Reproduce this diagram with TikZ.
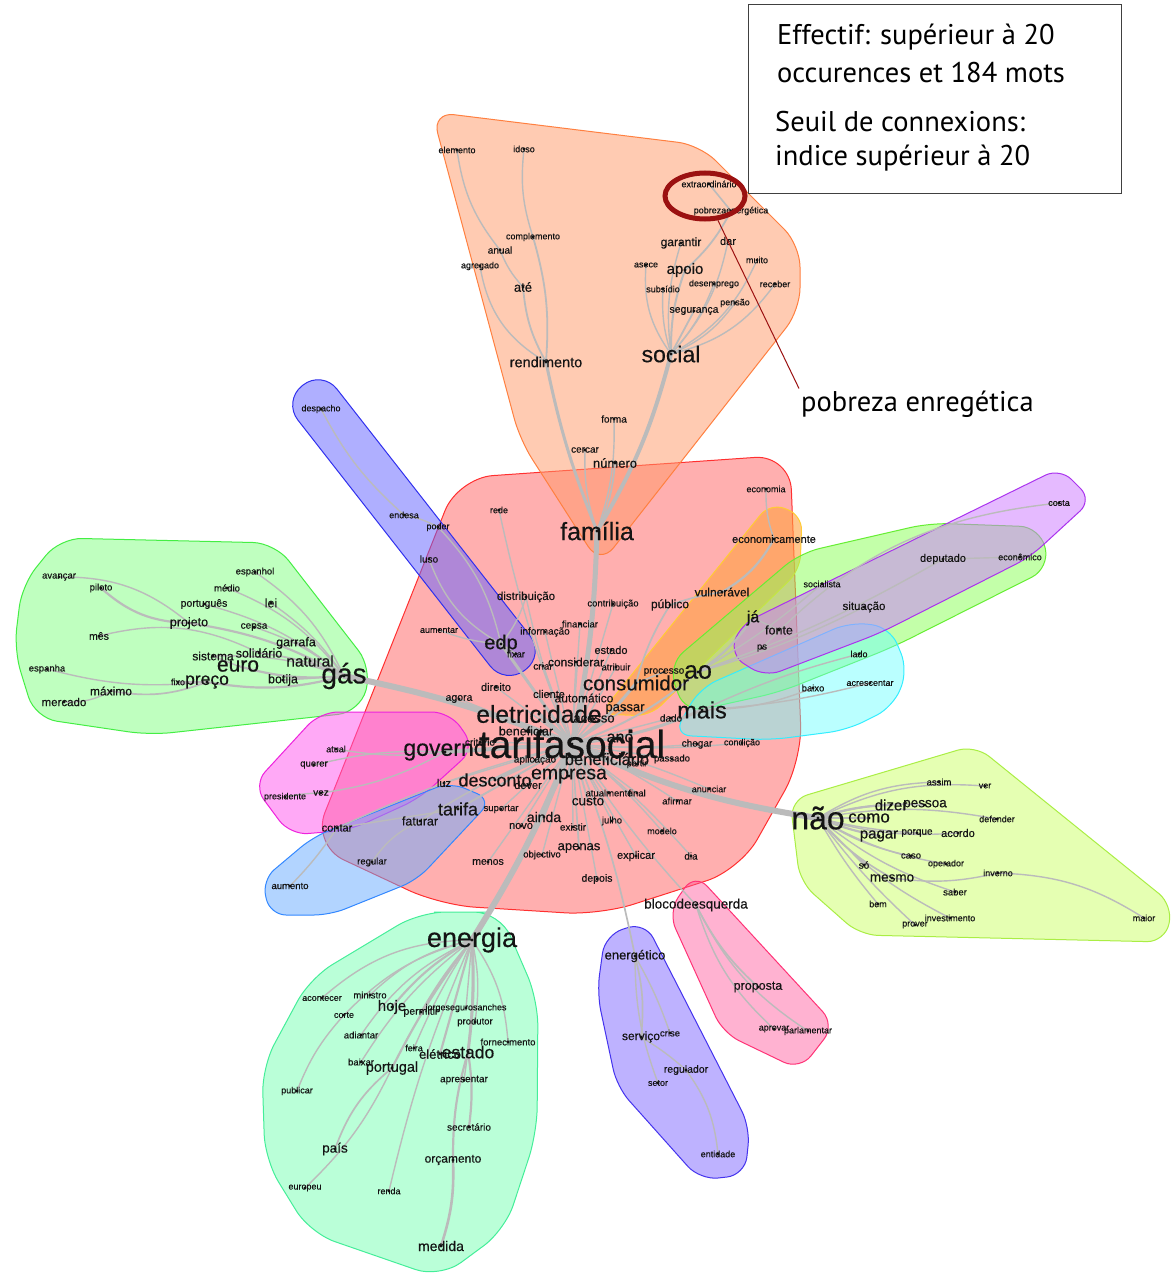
\documentclass[tikz,border=0pt]{standalone}
\usepackage{fontspec}
\setmainfont{Liberation Sans}
\newfontfamily\wfont[FakeBold=0.35]{Liberation Sans}
\newfontfamily\boxfont{PT Sans}
\usetikzlibrary{shapes.geometric,calc}
\pgfdeclarelayer{hulls}
\pgfdeclarelayer{edges}
\pgfsetlayers{hulls,edges,main}
\definecolor{wtext}{HTML}{141414}
\definecolor{edgec}{HTML}{BBBBBB}
\definecolor{cRedF}{HTML}{FF6666}\definecolor{cRedD}{HTML}{FF3030}
\definecolor{cOrF}{HTML}{FF9966}\definecolor{cOrD}{HTML}{FF8040}
\definecolor{cYoF}{HTML}{FFA040}\definecolor{cYoD}{HTML}{FFCC33}
\definecolor{cBlF}{HTML}{6060FF}\definecolor{cBlD}{HTML}{3030EE}
\definecolor{cLgF}{HTML}{80FF80}\definecolor{cLgD}{HTML}{44EE44}
\definecolor{cMaF}{HTML}{FF55EE}\definecolor{cMaD}{HTML}{EE22DD}
\definecolor{cLbF}{HTML}{66AAFF}\definecolor{cLbD}{HTML}{3388FF}
\definecolor{cCyF}{HTML}{66FFFF}\definecolor{cCyD}{HTML}{33EEFF}
\definecolor{cGrF}{HTML}{88FF55}\definecolor{cGrD}{HTML}{66EE33}
\definecolor{cPuF}{HTML}{CC77FF}\definecolor{cPuD}{HTML}{AA33EE}
\definecolor{cLiF}{HTML}{CCFF66}\definecolor{cLiD}{HTML}{AAEE44}
\definecolor{cBgF}{HTML}{66FFAA}\definecolor{cBgD}{HTML}{44EE99}
\definecolor{cBpF}{HTML}{7F66FF}\definecolor{cBpD}{HTML}{4433EE}
\definecolor{cPkF}{HTML}{FF5599}\definecolor{cPkD}{HTML}{FF3377}
\definecolor{markred}{HTML}{9B1111}
\tikzset{
  wd/.style={inner sep=0pt, text=wtext},
  edge/.style={draw=edgec, line width=1.4pt, line cap=round},
  hull/.style={line width=1pt, fill opacity=0.5, rounded corners=20pt},
  boxtxt/.style={anchor=west, inner sep=0pt, font=\boxfont\fontsize{28.5}{28.5}\selectfont, text=black},
}
\newcommand\Wd[5]{\node[wd,font=\wfont\fontsize{#4}{#4}\selectfont] (#1) at (#2,#3) {#5};\fill[wtext] (#1.center) circle (1.7pt);}
\newcommand\Ed[3][]{\draw[edge,#1] (#2.center) to (#3.center);}
\begin{document}
\begin{tikzpicture}[x=1pt,y=-1pt]
\useasboundingbox (0,0) rectangle (1175,1279);
\begin{pgfonlayer}{hulls}
\fill[white] (0,0) rectangle (1175,1279);
% red
\path[hull,fill=cRedF,draw=cRedD,rounded corners=35pt,fill opacity=0.52] ($(458,478)!0.5!(790,455)$) -- (790,455) -- (802,760) -- (740,870) -- (600,915) -- (440,905) -- (312,845) -- (458,478) -- cycle;
% orange
\path[hull,fill=cOrF,draw=cOrD,rounded corners=22pt] ($(432,112)!0.5!(700,145)$) -- (700,145) -- (800,245) -- (800,310) -- (600,565) -- (520,440) -- (432,112) -- cycle;
% yellow orange
\path[hull,fill=cYoF,draw=cYoD,fill opacity=0.6,rounded corners=15pt] ($(600,714)!0.5!(770,503)$) -- (770,503) -- (802,515) -- (800,570) -- (650,716) -- (600,714) -- cycle;
% blue top
\path[hull,fill=cBlF,draw=cBlD,rounded corners=24pt] ($(322,370)!0.5!(545,655)$) -- (545,655) -- (505,685) -- (283,401) -- (322,370) -- cycle;
% left green
\path[hull,fill=cLgF,draw=cLgD,rounded corners=22pt] ($(60,538)!0.5!(275,543)$) -- (275,543) -- (372,668) -- (360,712) -- (150,735) -- (35,718) -- (14,650) -- (22,585) -- (60,538) -- cycle;
% magenta
\path[hull,fill=cMaF,draw=cMaD,rounded corners=18pt] ($(320,712)!0.5!(450,712)$) -- (450,712) -- (475,748) -- (420,798) -- (350,830) -- (290,835) -- (253,785) -- (320,712) -- cycle;
% light blue
\path[hull,fill=cLbF,draw=cLbD,rounded corners=16pt] ($(313,837)!0.5!(450,782)$) -- (450,782) -- (492,800) -- (417,880) -- (330,915) -- (270,915) -- (262,880) -- (313,837) -- cycle;
% green elongated
\path[hull,fill=cGrF,draw=cGrD,rounded corners=20pt] ($(800,553)!0.5!(930,523)$) -- (930,523) -- (1040,527) -- (1050,568) -- (893,647) -- (780,692) -- (685,713) -- (668,665) -- (800,553) -- cycle;
% cyan
\path[hull,fill=cCyF,draw=cCyD,fill opacity=0.45,rounded corners=18pt] ($(700,688)!0.5!(850,622)$) -- (850,622) -- (890,627) -- (908,670) -- (893,707) -- (847,730) -- (770,740) -- (673,735) -- (700,688) -- cycle;
% purple
\path[hull,fill=cPuF,draw=cPuD,rounded corners=16pt] ($(740,625)!0.5!(1060,468)$) -- (1060,468) -- (1092,500) -- (1030,557) -- (880,633) -- (765,677) -- (730,655) -- (740,625) -- cycle;
% lime
\path[hull,fill=cLiF,draw=cLiD,rounded corners=18pt] ($(790,800)!0.5!(975,745)$) -- (975,745) -- (1173,905) -- (1165,942) -- (860,935) -- (800,882) -- (790,800) -- cycle;
% bottom green
\path[hull,fill=cBgF,draw=cBgD,fill opacity=0.45,rounded corners=26pt] ($(420,912)!0.5!(500,912)$) -- (500,912) -- (538,1000) -- (537,1133) -- (505,1230) -- (440,1278) -- (310,1233) -- (265,1160) -- (262,1067) -- (310,978) -- (420,912) -- cycle;
% bottom purple
\path[hull,fill=cBpF,draw=cBpD,rounded corners=18pt] ($(645,922)!0.5!(750,1127)$) -- (750,1127) -- (745,1175) -- (700,1180) -- (617,1087) -- (597,993) -- (605,935) -- (645,922) -- cycle;
% pink
\path[hull,fill=cPkF,draw=cPkD,fill opacity=0.45,rounded corners=18pt] ($(695,873)!0.5!(835,1025)$) -- (835,1025) -- (800,1070) -- (723,1033) -- (668,912) -- (695,873) -- cycle;
\end{pgfonlayer}

% ---------- words: orange
\Wd{elem}{457}{150}{9}{elemento}
\Wd{idoso}{524}{149}{9}{idoso}
\Wd{extra}{709}{184}{9}{extraordinário}
\Wd{pobre}{731}{211}{9}{pobrezaenergética}
\Wd{compl}{533}{237}{9}{complemento}
\Wd{anual}{500}{250}{10}{anual}
\Wd{agreg}{480}{266}{9}{agregado}
\Wd{ate}{523}{287}{13}{até}
\Wd{garan}{681}{243}{12}{garantir}
\Wd{dar}{728}{241}{11}{dar}
\Wd{asece}{646}{265}{9}{asece}
\Wd{apoio}{685}{270}{15}{apoio}
\Wd{muito}{757}{260}{9}{muito}
\Wd{subs}{663}{289}{9}{subsídio}
\Wd{desem}{714}{284}{9}{desemprego}
\Wd{receb}{775}{284}{9}{receber}
\Wd{pensao}{735}{303}{9}{pensão}
\Wd{segur}{694}{311}{10.5}{segurança}
\Wd{rendim}{546}{362}{14.5}{rendimento}
\Wd{social}{671}{354}{23}{social}
\Wd{forma}{614}{419}{10}{forma}
\Wd{cercar}{585}{450}{10}{cercar}
\Wd{numero}{615}{463}{13}{número}
\Wd{familia}{597}{531}{25}{família}
% blue top
\Wd{despacho}{321}{409}{9}{despacho}
\Wd{endesa}{404}{515}{9}{endesa}
\Wd{poder}{438}{527}{9}{poder}
\Wd{luso}{429}{559}{10}{luso}
\Wd{aumentar}{439}{630}{9}{aumentar}
\Wd{edp}{501}{644}{20}{edp}
\Wd{fixar}{516}{654}{9.5}{fixar}
% red center
\Wd{rede}{499}{510}{9}{rede}
\Wd{economia}{766}{489}{9}{economia}
\Wd{economic}{774}{539}{11}{economicamente}
\Wd{distrib}{526}{597}{11.5}{distribuição}
\Wd{contrib}{613}{604}{9.5}{contribuição}
\Wd{publico}{670}{605}{12}{público}
\Wd{vulner}{722}{592}{12}{vulnerável}
\Wd{informa}{545}{632}{10}{informação}
\Wd{financ}{580}{624}{9.5}{financiar}
\Wd{estadoc}{611}{650}{11}{estado}
\Wd{consid}{576}{662}{12}{considerar}
\Wd{criar}{543}{666}{10}{criar}
\Wd{atrib}{616}{667}{9.5}{atribuir}
\Wd{processo}{664}{672}{10}{processo}
\Wd{ao}{698}{672}{25}{ao}
\Wd{consum}{636}{683}{20.5}{consumidor}
\Wd{direito}{496}{687}{11}{direito}
\Wd{agora}{459}{699}{10.5}{agora}
\Wd{cliente}{549}{694}{11}{cliente}
\Wd{autom}{584}{698}{12}{automático}
\Wd{eletric}{539}{714}{24.5}{eletricidade}
\Wd{passar}{625}{709}{13}{passar}
\Wd{acesso}{594}{719}{13}{acesso}
\Wd{dado}{671}{718}{10}{dado}
\Wd{mais}{702}{710}{23.5}{mais}
\Wd{benefr}{526}{731}{12.5}{beneficiar}
\Wd{criterio}{480}{742}{10}{critério}
\Wd{ano}{620}{738}{16}{ano}
\Wd{tarifas}{572}{744}{39}{tarifasocial}
\Wd{governo}{445}{752}{23}{governo}
\Wd{chegar}{697}{744}{10}{chegar}
\Wd{condicao}{742}{743}{9}{condição}
\Wd{aplic}{535}{760}{10}{aplicação}
\Wd{benefc}{607}{759}{16.5}{beneficiário}
\Wd{partir}{637}{764}{9}{partir}
\Wd{passado}{672}{759}{9.5}{passado}
\Wd{luz}{444}{783}{11}{luz}
\Wd{desconto}{495}{780}{18}{desconto}
\Wd{dever}{528}{785}{11}{dever}
\Wd{empresa}{569}{776}{19.5}{empresa}
\Wd{atualm}{609}{793}{9.5}{atualmente}
\Wd{final}{637}{793}{9.5}{final}
\Wd{afirmar}{677}{801}{9.5}{afirmar}
\Wd{anunciar}{709}{789}{9}{anunciar}
\Wd{custo}{588}{801}{13.5}{custo}
\Wd{tarifa}{458}{809}{18}{tarifa}
\Wd{suportar}{501}{809}{9.5}{suportar}
\Wd{ainda}{544}{817}{14}{ainda}
\Wd{novo}{521}{826}{11}{novo}
\Wd{existir}{573}{827}{10}{existir}
\Wd{julho}{612}{821}{9.5}{julho}
\Wd{modelo}{662}{831}{9}{modelo}
\Wd{faturar}{420}{821}{12.5}{faturar}
\Wd{contar}{337}{828}{11}{contar}
\Wd{apenas}{579}{848}{13}{apenas}
\Wd{objectivo}{542}{855}{9.5}{objectivo}
\Wd{menos}{488}{862}{10.5}{menos}
\Wd{explicar}{636}{856}{11}{explicar}
\Wd{dia}{691}{856}{10}{dia}
\Wd{depois}{597}{879}{10.5}{depois}
\Wd{bloco}{696}{905}{13.5}{blocodeesquerda}
% magenta / light blue
\Wd{atual}{336}{749}{9}{atual}
\Wd{querer}{314}{765}{9.5}{querer}
\Wd{presid}{285}{797}{9}{presidente}
\Wd{vez}{321}{793}{10}{vez}
\Wd{regular}{372}{862}{9.5}{regular}
\Wd{aumento}{290}{886}{9.5}{aumento}
% left green
\Wd{avancar}{59}{577}{9.5}{avançar}
\Wd{piloto}{101}{588}{9.5}{piloto}
\Wd{espanhol}{255}{572}{9.5}{espanhol}
\Wd{medio}{227}{588}{9.5}{médio}
\Wd{portug}{204}{604}{10.5}{português}
\Wd{lei}{271}{603}{12.5}{lei}
\Wd{projeto}{189}{623}{12.5}{projeto}
\Wd{cepsa}{254}{627}{10}{cepsa}
\Wd{mes}{99}{636}{10.5}{mês}
\Wd{garrafa}{296}{643}{12.5}{garrafa}
\Wd{sistema}{213}{656}{12}{sistema}
\Wd{solid}{259}{653}{12.5}{solidário}
\Wd{natural}{310}{661}{15.5}{natural}
\Wd{euro}{238}{666}{21}{euro}
\Wd{espanha}{47}{669}{9.5}{espanha}
\Wd{fixo}{178}{682}{9}{fixo}
\Wd{preco}{207}{682}{17.5}{preço}
\Wd{botija}{283}{680}{12.5}{botija}
\Wd{gas}{344}{676}{28}{gás}
\Wd{maximo}{111}{691}{12}{máximo}
\Wd{mercado}{64}{702}{11.5}{mercado}
% right green / purple / cyan
\Wd{ja}{753}{618}{16}{já}
\Wd{fonte}{779}{630}{12.5}{fonte}
\Wd{ps}{762}{648}{9.5}{ps}
\Wd{socialista}{822}{584}{9}{socialista}
\Wd{situacao}{864}{607}{11.5}{situação}
\Wd{deputado}{943}{559}{11}{deputado}
\Wd{economico}{1020}{557}{9}{econômico}
\Wd{costa}{1059}{503}{9}{costa}
\Wd{lado}{859}{654}{9}{lado}
\Wd{baixo}{813}{688}{9.5}{baixo}
\Wd{acresc}{870}{683}{9}{acrescentar}
% lime
\Wd{nao}{818}{818}{32}{não}
\Wd{assim}{939}{782}{9.5}{assim}
\Wd{ver}{985}{786}{9}{ver}
\Wd{dizer}{891}{805}{15}{dizer}
\Wd{pessoa}{925}{805}{13.5}{pessoa}
\Wd{defender}{997}{819}{9}{defender}
\Wd{como}{869}{818}{17}{como}
\Wd{pagar}{879}{836}{15}{pagar}
\Wd{porque}{917}{833}{10}{porque}
\Wd{acordo}{958}{833}{11}{acordo}
\Wd{caso}{911}{856}{9.5}{caso}
\Wd{operador}{946}{864}{9}{operador}
\Wd{so}{864}{865}{10}{só}
\Wd{inverno}{998}{873}{9}{inverno}
\Wd{mesmo}{892}{878}{13.5}{mesmo}
\Wd{saber}{955}{892}{9.5}{saber}
\Wd{bem}{878}{904}{9}{bem}
\Wd{invest}{950}{918}{9}{investimento}
\Wd{prover}{915}{925}{9}{prover}
\Wd{maior}{1144}{918}{9}{maior}
% bottom green
\Wd{energia}{472}{940}{27}{energia}
\Wd{acont}{322}{998}{9}{acontecer}
\Wd{ministro}{370}{995}{9.5}{ministro}
\Wd{hoje}{392}{1007}{15}{hoje}
\Wd{jorge}{466}{1008}{9}{jorgesegurosanches}
\Wd{permitir}{421}{1012}{10.5}{permitir}
\Wd{corte}{344}{1015}{9}{corte}
\Wd{produtor}{475}{1022}{9.5}{produtor}
\Wd{adiantar}{361}{1035}{9.5}{adiantar}
\Wd{fornec}{508}{1042}{9.5}{fornecimento}
\Wd{feira}{414}{1048}{9}{feira}
\Wd{eletrico}{440}{1054}{13}{elétrico}
\Wd{estado}{468}{1052}{17.5}{estado}
\Wd{baixar}{361}{1062}{9.5}{baixar}
\Wd{portugal}{392}{1068}{14.5}{portugal}
\Wd{apresent}{464}{1080}{10}{apresentar}
\Wd{publicar}{297}{1091}{9}{publicar}
\Wd{secret}{469}{1127}{10}{secretário}
\Wd{pais}{335}{1149}{13.5}{país}
\Wd{orcam}{453}{1160}{12}{orçamento}
\Wd{europeu}{305}{1188}{9}{europeu}
\Wd{renda}{389}{1191}{9}{renda}
\Wd{medida}{441}{1246}{14}{medida}
% bottom purple / pink
\Wd{energet}{635}{956}{13}{energético}
\Wd{servico}{641}{1037}{12}{serviço}
\Wd{crise}{670}{1033}{9.5}{crise}
\Wd{regul}{686}{1070}{10.5}{regulador}
\Wd{setor}{658}{1083}{9}{setor}
\Wd{entidade}{718}{1154}{9}{entidade}
\Wd{proposta}{758}{987}{12.5}{proposta}
\Wd{aprovar}{774}{1029}{9}{aprovar}
\Wd{parlam}{808}{1031}{9}{parlamentar}

% ---------- edges
\begin{pgfonlayer}{edges}
% orange
\Ed[line width=4pt,bend right=8]{familia}{social}
\Ed[line width=3pt,bend left=5]{familia}{rendim}
\Ed[line width=2pt,bend left=10]{social}{apoio}
\Ed[bend left=12]{social}{garan}
\Ed[bend right=15]{social}{dar}
\Ed[bend left=20]{social}{asece}
\Ed[bend left=10]{social}{subs}
\Ed[bend right=10]{social}{desem}
\Ed[bend right=20]{social}{receb}
\Ed[bend right=15]{social}{pensao}
\Ed[line width=1.8pt]{social}{segur}
\Ed[bend right=18]{social}{muito}
\Ed[line width=1.8pt,bend right=10]{apoio}{pobre}
\Ed[line width=1.6pt]{pobre}{extra}
\Ed[line width=1.8pt,bend left=12]{rendim}{ate}
\Ed[bend left=10]{ate}{anual}
\Ed[bend left=15]{anual}{elem}
\Ed[line width=1.8pt,bend right=10]{rendim}{compl}
\Ed[bend left=12]{compl}{idoso}
\Ed[bend left=25]{rendim}{agreg}
\Ed[bend right=10]{familia}{forma}
\Ed[bend left=10]{familia}{cercar}
\Ed[line width=1.7pt,bend right=10]{familia}{numero}
\Ed[line width=5pt,bend right=5]{tarifas}{familia}
% blue
\Ed[bend left=20]{edp}{luso}
\Ed[bend right=15]{edp}{poder}
\Ed[bend right=8]{poder}{endesa}
\Ed[bend left=10]{endesa}{despacho}
\Ed[bend left=8]{edp}{aumentar}
\Ed[line width=3pt]{tarifas}{edp}
\Ed{edp}{fixar}
\Ed[bend right=10]{edp}{distrib}
% center hub
\Ed[line width=4pt]{tarifas}{eletric}
\Ed[line width=4pt]{tarifas}{governo}
\Ed[line width=3pt]{tarifas}{desconto}
\Ed[line width=3pt]{tarifas}{empresa}
\Ed[line width=3pt,bend right=8]{tarifas}{consum}
\Ed[line width=3pt]{tarifas}{benefc}
\Ed[line width=2pt]{tarifas}{ano}
\Ed[line width=3pt,bend right=8]{tarifas}{mais}
\Ed[line width=2pt,bend right=10]{tarifas}{ao}
\Ed[line width=6pt,bend right=8]{tarifas}{nao}
\Ed[line width=6pt,bend left=5]{tarifas}{energia}
\Ed[line width=6pt,bend right=5]{tarifas}{gas}
\Ed[line width=2pt]{tarifas}{custo}
\Ed[line width=2pt]{tarifas}{tarifa}
\Ed[bend left=5]{tarifas}{rede}
\Ed{tarifas}{direito}
\Ed{tarifas}{agora}
\Ed{tarifas}{cliente}
\Ed{tarifas}{autom}
\Ed[line width=1.7pt]{tarifas}{acesso}
\Ed[line width=1.7pt]{tarifas}{passar}
\Ed{tarifas}{dado}
\Ed[bend right=5]{tarifas}{chegar}
\Ed[bend right=5]{tarifas}{condicao}
\Ed{tarifas}{passado}
\Ed{tarifas}{partir}
\Ed{tarifas}{aplic}
\Ed{tarifas}{criterio}
\Ed[line width=1.7pt]{tarifas}{benefr}
\Ed{tarifas}{dever}
\Ed{tarifas}{luz}
\Ed{tarifas}{atualm}
\Ed{tarifas}{final}
\Ed[bend left=5]{tarifas}{afirmar}
\Ed[bend left=5]{tarifas}{anunciar}
\Ed[line width=1.7pt]{tarifas}{ainda}
\Ed{tarifas}{novo}
\Ed{tarifas}{existir}
\Ed{tarifas}{julho}
\Ed[bend left=5]{tarifas}{modelo}
\Ed[line width=1.7pt]{tarifas}{apenas}
\Ed{tarifas}{objectivo}
\Ed{tarifas}{menos}
\Ed{tarifas}{explicar}
\Ed[bend left=5]{tarifas}{dia}
\Ed{tarifas}{depois}
\Ed[bend right=5]{tarifas}{bloco}
\Ed[line width=1.7pt,bend left=5]{tarifas}{energet}
\Ed{tarifas}{contrib}
\Ed{tarifas}{financ}
\Ed{tarifas}{informa}
\Ed{tarifas}{estadoc}
\Ed{tarifas}{consid}
\Ed{tarifas}{criar}
\Ed{tarifas}{atrib}
\Ed[bend left=5]{tarifas}{distrib}
\Ed{tarifas}{suportar}
\Ed[line width=1.7pt,bend right=5]{tarifas}{faturar}
\Ed[bend right=5]{tarifas}{contar}
\Ed[line width=1.7pt,bend left=8]{consum}{publico}
\Ed[line width=1.7pt,bend left=5]{publico}{vulner}
\Ed[line width=2.2pt,bend right=15]{vulner}{economic}
\Ed[bend left=10]{economic}{economia}
\Ed{consum}{processo}
% green / purple / cyan
\Ed[line width=2.2pt,bend right=10]{ao}{ja}
\Ed{ja}{fonte}
\Ed[line width=1.7pt]{ao}{ps}
\Ed[bend left=20]{ps}{costa}
\Ed[bend right=5]{ao}{deputado}
\Ed{deputado}{economico}
\Ed[bend right=5]{ao}{situacao}
\Ed[bend right=5]{ao}{socialista}
\Ed[bend left=5]{mais}{lado}
\Ed[bend right=10]{mais}{baixo}
\Ed[bend right=5]{mais}{acresc}
% magenta / light blue
\Ed[bend left=8]{governo}{atual}
\Ed[bend right=8]{governo}{querer}
\Ed[bend left=10]{governo}{vez}
\Ed[bend right=5]{vez}{presid}
\Ed[bend right=15]{faturar}{regular}
\Ed[bend left=5]{contar}{aumento}
\Ed{tarifa}{contar}
% left green
\Ed[line width=2.2pt,bend left=8]{gas}{natural}
\Ed[line width=2.2pt,bend left=10]{gas}{euro}
\Ed[line width=2.2pt,bend left=12]{gas}{preco}
\Ed[line width=1.7pt]{gas}{botija}
\Ed[line width=1.7pt,bend right=5]{gas}{garrafa}
\Ed[line width=1.7pt,bend right=8]{gas}{solid}
\Ed[bend right=10]{gas}{sistema}
\Ed[bend right=10]{gas}{cepsa}
\Ed[bend right=10]{gas}{lei}
\Ed[bend right=15]{gas}{medio}
\Ed[bend right=15]{gas}{espanhol}
\Ed[bend right=12]{gas}{portug}
\Ed[line width=2.2pt,bend right=10]{gas}{projeto}
\Ed[line width=2.2pt,bend left=20]{projeto}{piloto}
\Ed[bend right=20]{projeto}{avancar}
\Ed[line width=1.7pt,bend left=15]{preco}{maximo}
\Ed{preco}{fixo}
\Ed[bend left=15]{maximo}{mercado}
\Ed[bend left=10]{preco}{espanha}
\Ed[bend right=20]{solid}{mes}
\Ed{euro}{sistema}
% lime
\Ed[line width=2.2pt]{nao}{como}
\Ed[line width=2.2pt,bend right=5]{nao}{pagar}
\Ed[line width=2.2pt,bend left=8]{nao}{dizer}
\Ed[line width=1.7pt,bend left=10]{nao}{pessoa}
\Ed[bend left=15]{nao}{assim}
\Ed[bend left=15]{nao}{ver}
\Ed[bend left=10]{nao}{defender}
\Ed[bend right=5]{nao}{porque}
\Ed[bend right=10]{nao}{acordo}
\Ed[bend right=10]{nao}{caso}
\Ed[bend right=10]{nao}{operador}
\Ed{nao}{so}
\Ed[line width=1.7pt,bend right=10]{nao}{mesmo}
\Ed[bend right=10]{mesmo}{inverno}
\Ed[bend left=15]{inverno}{maior}
\Ed[bend right=10]{nao}{saber}
\Ed[bend right=5]{nao}{bem}
\Ed[bend right=10]{nao}{invest}
\Ed[bend right=5]{nao}{prover}
% bottom green
\Ed[bend right=20]{energia}{acont}
\Ed[bend right=15]{energia}{ministro}
\Ed[line width=2.2pt,bend right=10]{energia}{hoje}
\Ed{energia}{jorge}
\Ed[line width=1.7pt,bend right=5]{energia}{permitir}
\Ed[bend right=15]{energia}{corte}
\Ed[bend left=10]{energia}{produtor}
\Ed[bend right=15]{energia}{adiantar}
\Ed[bend left=15]{energia}{fornec}
\Ed[bend right=5]{energia}{feira}
\Ed[line width=2.2pt]{energia}{eletrico}
\Ed[line width=3pt,bend left=5]{energia}{estado}
\Ed[bend right=10]{energia}{baixar}
\Ed[line width=2.2pt,bend right=5]{energia}{portugal}
\Ed[bend left=5]{energia}{apresent}
\Ed[line width=2.2pt,bend left=8]{estado}{secret}
\Ed[line width=2.2pt,bend right=8]{estado}{orcam}
\Ed[line width=2.6pt,bend left=10]{orcam}{medida}
\Ed[bend right=10]{corte}{publicar}
\Ed[line width=1.7pt,bend right=15]{portugal}{pais}
\Ed[bend left=10]{portugal}{europeu}
\Ed[bend right=5]{energia}{renda}
% bottom purple / pink
\Ed[line width=1.7pt,bend left=10]{energet}{servico}
\Ed[bend left=5]{energet}{crise}
\Ed[bend left=5]{servico}{regul}
\Ed[bend left=15]{regul}{entidade}
\Ed[bend right=10]{energet}{setor}
\Ed[line width=1.7pt,bend right=10]{bloco}{proposta}
\Ed[bend right=15]{bloco}{aprovar}
\Ed[bend right=15]{bloco}{parlam}
\end{pgfonlayer}

% ---------- annotation box and highlight
\node[draw=black!75,line width=1pt,fill=white,anchor=north west,minimum width=373pt,minimum height=189pt,inner sep=0pt] (box) at (748,4) {};
\node[boxtxt] (t1) at (777,37) {Effectif: supérieur à 20};
\node[boxtxt] (t2) at (777,73) {occurences et 184 mots};
\node[boxtxt] (t3) at (775,122) {Seuil de connexions:};
\node[boxtxt] (t4) at (775,158) {indice supérieur à 20};
\node[draw=markred,ellipse,line width=5pt,minimum width=80pt,minimum height=46pt,inner sep=0pt] (circ) at (705,196) {};
\node[anchor=west,inner sep=2pt,font=\boxfont\fontsize{28.5}{28.5}\selectfont] (lbl) at (799,404) {pobreza enregética};
\draw[markred,line width=1pt] (circ.-62) -- (lbl.north west);
\end{tikzpicture}
\end{document}
